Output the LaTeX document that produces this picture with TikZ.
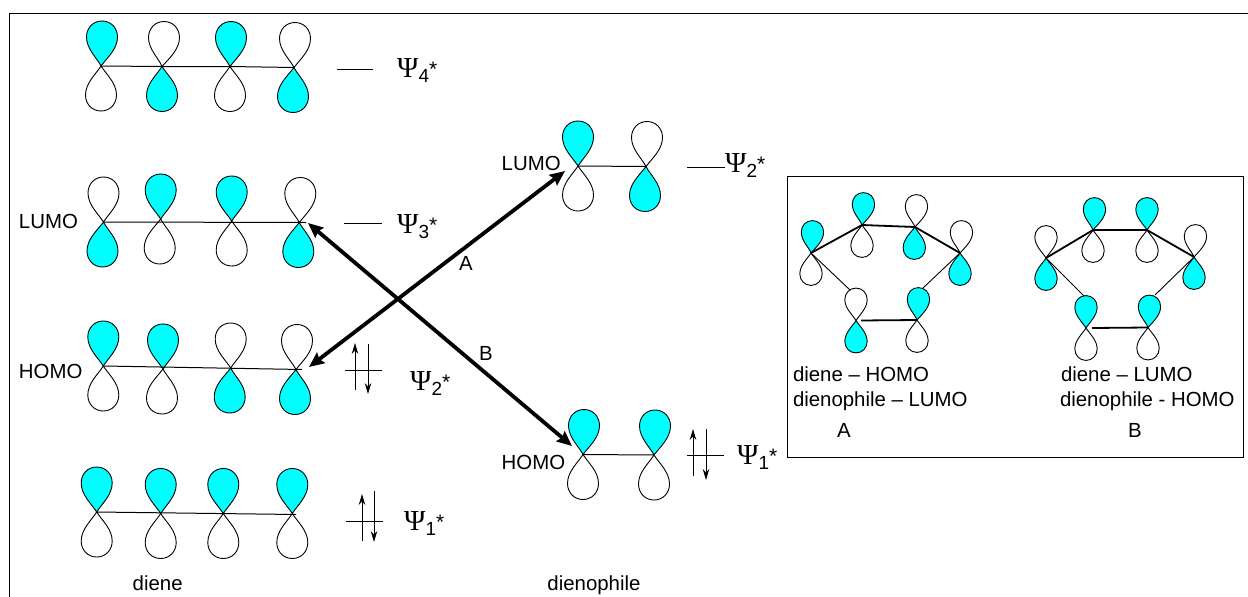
\documentclass[tikz,border=0pt]{standalone}
\usepackage{fontspec}
\setmainfont{Liberation Sans}
\newfontfamily\psifont{Liberation Serif}
\usetikzlibrary{arrows.meta}
\definecolor{lobecyan}{RGB}{0,255,255}
\tikzset{
  x=1pt,y=-1pt,
  lobe/.style={draw=black,line width=0.9pt,fill=#1},
  lobe/.default=white,
  bond/.style={draw=black,line width=1pt},
  thickbond/.style={draw=black,line width=1.8pt},
  thinbond/.style={draw=black,line width=0.9pt},
  level/.style={draw=black,line width=0.9pt},
  spinup/.style={draw=black,line width=0.9pt,-{Stealth[length=11pt,width=6.5pt]}},
  react/.style={draw=black,line width=3.8pt,{Stealth[length=15pt,width=13pt,inset=2pt]}-{Stealth[length=15pt,width=13pt,inset=2pt]}},
  lab/.style={inner sep=0pt,outer sep=0pt,font=\fontsize{20.4}{24}\selectfont},
  labb/.style={lab,anchor=base},
  labw/.style={lab,anchor=base west},
  psi/.style={inner sep=0pt,anchor=base west},
  frameline/.style={draw=black,line width=0.9pt},
}
% #1 atom name, #2 x, #3 y, #4 top fill, #5 bottom fill, #6 scale, #7 top dx, #8 bottom dx
\newcommand{\pz}[8]{%
  \coordinate (#1) at (#2,#3);
  \begin{scope}[shift={(#2,#3)},xscale=#6,yscale=#6]
    \path[lobe=#4] (0,0) .. controls (#7-5,-8) and (#7-15.5,-17) .. (#7-15.5,-29) .. controls (#7-15.5,-38) and (#7-9,-45) .. (#7,-45) .. controls (#7+9,-45) and (#7+15.5,-38) .. (#7+15.5,-29) .. controls (#7+15.5,-17) and (#7+5,-8) .. (0,0) -- cycle;
    \path[lobe=#5] (0,0) .. controls (#8+5,8) and (#8+15.5,17) .. (#8+15.5,29) .. controls (#8+15.5,38) and (#8+9,45) .. (#8,45) .. controls (#8-9,45) and (#8-15.5,38) .. (#8-15.5,29) .. controls (#8-15.5,17) and (#8-5,8) .. (0,0) -- cycle;
  \end{scope}}
\newcommand{\psilab}[4]{\node[psi] (#1) at (#2,#3) {\psifont\fontsize{29}{30}\selectfont Ψ\raisebox{-5pt}{\fontspec{Liberation Sans}\fontsize{19}{20}\selectfont #4}\raisebox{1pt}{\fontspec{Liberation Sans}\fontsize{21}{20}\selectfont *}};}
\newcommand{\updown}[7]{%
  \draw[level] (#1,#2) -- (#1+37,#2);
  \draw[spinup] (#3,#4) -- (#3,#4-47);
  \draw[spinup] (#5,#6) -- (#5,#6+#7);}
\begin{document}
\begin{tikzpicture}
\useasboundingbox (0,0) rectangle (1248,597);
\draw[frameline] (9,597) -- (9,13) -- (1248,13);
% Diene Psi4
\pz{aa}{101}{66}{lobecyan}{white}{1}{1}{0}
\pz{ab}{162}{66.5}{white}{lobecyan}{1}{2}{0}
\pz{ac}{230}{66.5}{lobecyan}{white}{1}{1}{0}
\pz{ad}{294}{67.5}{white}{lobecyan}{1}{1}{-1}
\draw[bond] (aa) -- (ab) -- (ac) -- (ad);
% Psi3
\pz{ba}{103.5}{222}{white}{lobecyan}{1}{0}{-1}
\pz{bb}{160.7}{219}{lobecyan}{white}{1}{0}{-1}
\pz{bc}{231.7}{221}{lobecyan}{white}{1}{0}{0}
\pz{bd}{299.3}{222.5}{white}{lobecyan}{1}{1}{-1}
\coordinate (be) at (306,222.5);
\draw[bond] (ba) -- (be);
% Psi2
\pz{ca}{103.3}{366}{lobecyan}{white}{1}{0}{0}
\pz{cb}{163}{369}{lobecyan}{white}{1}{0}{-1}
\pz{cc}{230.7}{368}{white}{lobecyan}{1}{0}{-1}
\pz{cd}{296}{369.5}{white}{lobecyan}{1}{1}{-1}
\coordinate (ce) at (302,369.5);
\draw[bond] (ca) -- (ce);
% Psi1
\pz{da}{96.7}{512}{lobecyan}{white}{1}{0}{0}
\pz{db}{160.7}{513.5}{lobecyan}{white}{1}{0}{0}
\pz{dc}{223.3}{513.5}{lobecyan}{white}{1}{0}{0}
\pz{dd}{292.3}{513.5}{lobecyan}{white}{1}{0}{0}
\coordinate (de) at (296,514.5);
\draw[bond] (da) -- (de);
% Dienophile
\pz{ea}{578}{166}{lobecyan}{white}{1}{0}{0}
\pz{eb}{646}{166.5}{white}{lobecyan}{1}{1}{-1}
\draw[bond] (ea) -- (eb);
\pz{fa}{583}{454.5}{lobecyan}{white}{1}{1}{0}
\pz{fb}{654}{455}{lobecyan}{white}{1}{1}{0}
\draw[bond] (fa) -- (fb);
% Inset
\draw[frameline] (787,176) rectangle (1243,457);
\pz{ga}{811}{253}{lobecyan}{white}{0.72}{2}{0}
\pz{gb}{862}{225}{lobecyan}{white}{0.72}{2}{0}
\pz{gc}{915}{227}{white}{lobecyan}{0.72}{2}{-1}
\pz{gd}{960}{253}{white}{lobecyan}{0.72}{2}{0}
\pz{ge}{856}{320.5}{white}{lobecyan}{0.72}{0}{0}
\pz{gf}{917}{320}{lobecyan}{white}{0.72}{2}{0}
\coordinate (gg) at (861,320.5);
\coordinate (gh) at (850,290);
\coordinate (gi) at (923,288);
\draw[thickbond] (ga) -- (gb) -- (gc) -- (gd);
\draw[thickbond] (gg) -- (gf);
\draw[thinbond] (ga) -- (gh);
\draw[thinbond] (gd) -- (gi);
\pz{ha}{1046}{258}{white}{lobecyan}{0.72}{0}{0}
\pz{hb}{1093}{230}{lobecyan}{white}{0.72}{2}{0}
\pz{hc}{1147}{230}{lobecyan}{white}{0.72}{0}{0}
\pz{hd}{1194}{257}{white}{lobecyan}{0.72}{2}{0}
\pz{he}{1086}{328}{lobecyan}{white}{0.72}{0}{0}
\pz{hf}{1148}{327.5}{lobecyan}{white}{0.72}{2}{0}
\coordinate (hg) at (1092,328);
\coordinate (hh) at (1084,296);
\coordinate (hi) at (1155,295);
\draw[thickbond] (ha) -- (hb) -- (hc) -- (hd);
\draw[thickbond] (hg) -- (hf);
\draw[thinbond] (ha) -- (hh);
\draw[thinbond] (hd) -- (hi);
% Reaction arrows
\coordinate (ra) at (309,367);
\coordinate (rb) at (565,171);
\coordinate (rc) at (308,223);
\coordinate (rd) at (572,446);
\draw[react] (ra) -- (rb);
\draw[react] (rc) -- (rd);
\node[labb] (la) at (466,270) {A};
\node[labb] (lb) at (486,360) {B};
% levels
\coordinate (p4l) at (337,69); \coordinate (p4r) at (373,69);
\draw[level] (p4l) -- (p4r);
\coordinate (p3l) at (344,223); \coordinate (p3r) at (382,223);
\draw[level] (p3l) -- (p3r);
\coordinate (p2l) at (687,167); \coordinate (p2r) at (725,167);
\draw[level] (p2l) -- (p2r);
% electrons
\updown{345}{370}{355}{390}{368}{344}{50}
\updown{346}{521}{362}{541}{374}{491}{51}
\updown{687}{455}{693}{476}{706}{429}{51}
% Psi labels
\psilab{t1}{397}{77}{4}
\psilab{t2}{397}{233}{3}
\psilab{t3}{410}{390}{2}
\psilab{t4}{404}{530}{1}
\psilab{t5}{725}{172}{2}
\psilab{t6}{737}{464}{1}
% Texts
\node[labw] (l1) at (19,228.5) {LUMO};
\node[labw] (l2) at (19,378) {HOMO};
\node[labw] (l3) at (501.7,170) {LUMO};
\node[labw] (l4) at (501.7,469) {HOMO};
\node[labb] (l5) at (157.7,590) {diene};
\node[labb] (l6) at (594,590) {dienophile};
\node[labw] (i1) at (793,381) {diene – HOMO};
\node[labw] (i2) at (793,406) {dienophile – LUMO};
\node[labb] (i3) at (844,437) {A};
\node[labw] (i4) at (1061,381) {diene – LUMO};
\node[labw] (i5) at (1060,406) {dienophile - HOMO};
\node[labb] (i6) at (1135,437) {B};
\end{tikzpicture}
\end{document}
